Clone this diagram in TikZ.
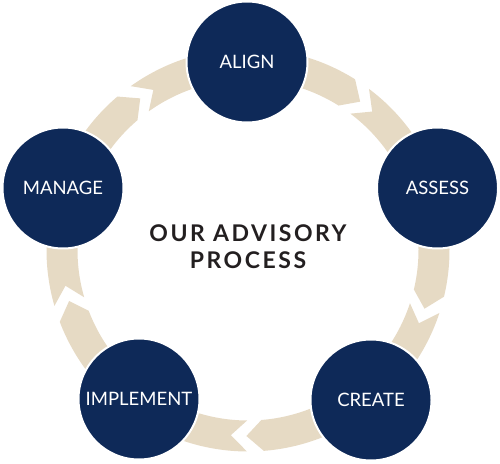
\documentclass[tikz,border=0pt]{standalone}
\usepackage{fontspec}
\setmainfont{Lato}
\newfontfamily\titlefont{Lato}[LetterSpace=11]
\definecolor{navy}{RGB}{14,41,88}
\definecolor{beige}{RGB}{230,218,196}
\definecolor{titlegray}{RGB}{35,31,32}
\newcommand\Ro{201.5pt}
\newcommand\Ri{170.5pt}
\newcommand\Rm{186pt}
\newcommand\gh{2.4}
\newcommand\dl{5}
\newcommand\bandpiece[2]{%
  \fill[bandfill] ([shift={(C)}]{#1-\gh}:\Ro)
    arc[start angle={#1-\gh}, end angle={#2+\gh}, radius=\Ro]
    -- ([shift={(C)}]{#2+\gh-\dl}:\Rm)
    -- ([shift={(C)}]{#2+\gh}:\Ri)
    arc[start angle={#2+\gh}, end angle={#1-\gh}, radius=\Ri]
    -- ([shift={(C)}]{#1-\gh-\dl}:\Rm) -- cycle;}
\tikzset{
  bandfill/.style={fill=beige},
  stage/.style={circle, fill=navy, draw=white, line width=2pt,
    minimum size=121pt, inner sep=0pt, text=white,
    font=\fontsize{18.5}{20}\selectfont},
  titletext/.style={anchor=base, text=titlegray, inner sep=0pt,
    font=\titlefont\bfseries\fontsize{23}{27}\selectfont}
}
\begin{document}
\begin{tikzpicture}[x=1pt,y=1pt]
\useasboundingbox (0,0) rectangle (500,463);
\coordinate (C) at (248,213);
\bandpiece{128}{55.5}
\bandpiece{55.5}{-15.8}
\bandpiece{-15.8}{-87.9}
\bandpiece{-87.9}{-161.5}
\bandpiece{-161.5}{-232}
\node[stage] (align) at (247,401) {ALIGN};
\node[stage] (assess) at (437.5,275) {ASSESS};
\node[stage] (create) at (371,63) {CREATE};
\node[stage] (implement) at (139,64) {IMPLEMENT};
\node[stage] (manage) at (63,275) {MANAGE};
\node[titletext] (title1) at (248,221) {OUR ADVISORY};
\node[titletext] (title2) at (248,194) {PROCESS};
\end{tikzpicture}
\end{document}
